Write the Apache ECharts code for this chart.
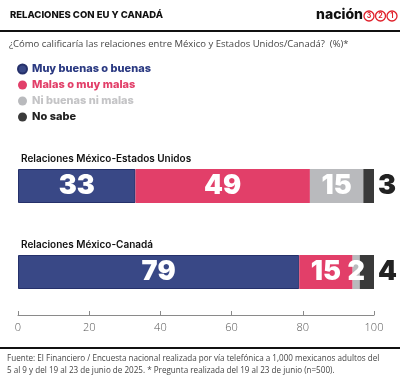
<!DOCTYPE html>
<html><head><meta charset="utf-8">
<script src="https://cdn.jsdelivr.net/npm/echarts@6/dist/echarts.min.js"></script>
<style>html,body{margin:0;padding:0;background:#fff}#c{width:400px;height:382px}</style>
</head><body><div id="c"></div>
<script>
const categories = ['Relaciones México-Estados Unidos', 'Relaciones México-Canadá'];
const seriesNames = ['Muy buenas o buenas', 'Malas o muy malas', 'Ni buenas ni malas', 'No sabe'];
const buenas = [33, 79];
const malas = [49, 15];
const niBuenasNiMalas = [15, 2];
const noSabe = [3, 4];
const xTicks = [0, 20, 40, 60, 80, 100];
const titleText = 'RELACIONES CON EU Y CANADÁ';
const questionText = '¿Cómo calificaría las relaciones entre México y Estados Unidos/Canadá?  (%)*';
const sourceLines = ['Fuente: El Financiero / Encuesta nacional realizada por vía telefónica a 1,000 mexicanos adultos del',
  '5 al 9 y del 19 al 23 de junio de 2025. * Pregunta realizada del 19 al 23 de junio (n=500).'];

const colors = ['#394886', '#e23f69', '#b9babd', '#3a3a3a'];
const legendTextColors = ['#2b3a82', '#e23f69', '#c4c4c6', '#222222'];
const valueSets = [buenas, malas, niBuenasNiMalas, noSabe];
const labelFont = 'Inter';

const chart = echarts.init(document.getElementById('c'), null, {renderer: 'canvas'});
const series = seriesNames.map((name, i) => ({
  name, type: 'bar', stack: 'total', barWidth: 34,
  data: valueSets[i],
  itemStyle: {color: colors[i], borderColor: i === 0 ? '#25306a' : colors[i], borderWidth: i === 0 ? 1 : 0},
  label: {
    show: true,
    position: i === 3 ? 'right' : 'inside',
    distance: 4,
    color: i === 3 ? '#222' : '#fff',
    fontFamily: labelFont, fontWeight: 900, fontSize: 27
  },
  emphasis: {disabled: true}
}));

const circles = ['3', '2', '1'];
const graphics = [
  {type: 'text', left: 10, top: 10, style: {text: titleText, font: '800 9.5px Inter', fill: '#111'}},
  {type: 'text', x: 363, y: 15, style: {text: 'nación', font: '800 14px Inter', fill: '#111', align: 'right', verticalAlign: 'middle'}},
  {type: 'rect', left: 0, top: 30, shape: {width: 400, height: 2}, style: {fill: '#111'}},
  {type: 'text', left: 9, top: 39, style: {text: questionText, font: '9.5px "Open Sans"', fill: '#444'}},
  {type: 'rect', left: 0, top: 347, shape: {width: 400, height: 2}, style: {fill: '#111'}},
  {type: 'text', left: 7, top: 353, style: {text: sourceLines.join('\n'), font: '8.1px "Open Sans"', fill: '#444', lineHeight: 12}}
];
circles.forEach((t, k) => {
  const cx = 369 + k * 11.5;
  graphics.push({type: 'circle', shape: {cx, cy: 16, r: 5}, style: {fill: '#fff', stroke: '#e0202a', lineWidth: 1.3}});
  graphics.push({type: 'text', x: cx, y: 16, style: {text: t, font: 'bold 7px Inter', fill: '#e0202a', align: 'center', verticalAlign: 'middle'}});
});

chart.setOption({
  animation: false,
  color: colors,
  legend: {
    orient: 'vertical', left: 12, top: 58, icon: 'circle', itemWidth: 9, itemHeight: 9, itemGap: 4,
    selectedMode: false,
    data: seriesNames.map((n, i) => ({name: n, textStyle: {color: legendTextColors[i]}})),
    textStyle: {fontFamily: 'Inter', fontWeight: 800, fontSize: 11, lineHeight: 12}
  },
  grid: {left: 18, right: 26, top: 143, height: 172, containLabel: false},
  xAxis: {
    type: 'value', min: 0, max: 100, interval: 20,
    axisLine: {show: true, lineStyle: {color: '#8a8a8a', width: 1}},
    axisTick: {show: true, inside: true, length: 4, lineStyle: {color: '#8a8a8a'}},
    splitLine: {show: false},
    axisLabel: {margin: 7, color: '#555', fontFamily: 'Open Sans', fontSize: 11, fontWeight: 300,
      formatter: v => xTicks.includes(v) ? String(v) : ''}
  },
  yAxis: {
    type: 'category', inverse: true, data: categories,
    axisLine: {show: false}, axisTick: {show: false},
    axisLabel: {inside: true, margin: 3, align: 'left', verticalAlign: 'bottom', padding: [0, 0, 22, 0],
      color: '#111', fontFamily: 'Inter', fontWeight: 600, fontSize: 10}
  },
  graphic: graphics,
  series
});
</script></body></html>
